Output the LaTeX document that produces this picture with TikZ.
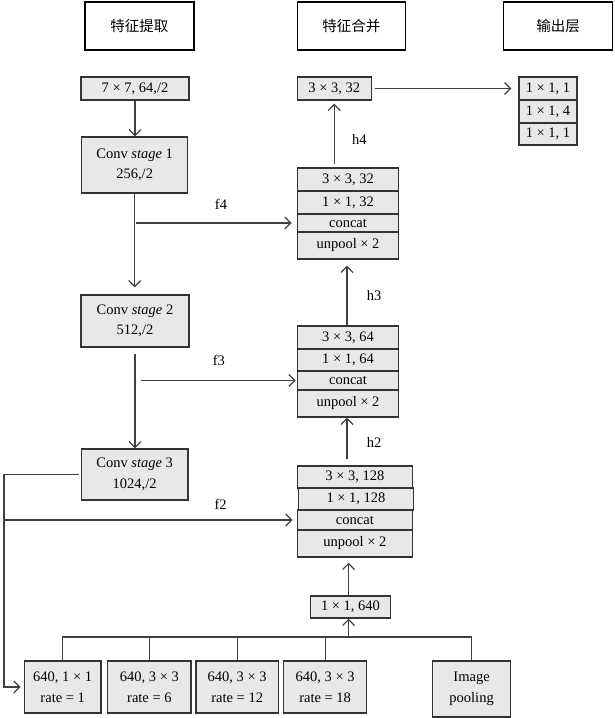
\documentclass[tikz,border=0pt]{standalone}
\usepackage{fontspec}
\setmainfont{Liberation Serif}
\newfontfamily\cjk{Noto Sans CJK SC}
\usetikzlibrary{arrows.meta}

\tikzset{
  box/.style={draw=black!80, fill=gray!18, line width=1.3pt, inner sep=0pt, align=center},
  sz/.style 2 args={minimum width=#1pt, minimum height=#2pt},
  head/.style={draw=black, line width=1.6pt, inner sep=0pt, minimum height=48pt, font=\cjk\fontsize{14.5}{17}\selectfont},
  conn/.style={draw=black!75, line width=1.2pt},
  arr/.style={conn, -{Straight Barb[length=6pt,width=12pt]}},
}

\begin{document}
\begin{tikzpicture}[x=1pt, y=-1pt, font=\fontsize{14.5}{20.5}\selectfont]
\useasboundingbox (0,0) rectangle (614,718);
% titles
\node[head, minimum width=109pt] (t1) at (139.3,26) {特征提取};
\node[head, minimum width=108pt] (t2) at (351.4,26) {特征合并};
\node[head, minimum width=109pt] (t3) at (558,26) {输出层};
% feature extraction
\node[box, sz={108}{23}] (k7) at (135,88.5) {7 × 7, 64,/2};
\node[box, sz={106}{56}] (conv1) at (134.7,165) {Conv \textit{stage} 1\\256,/2};
\node[box, sz={108}{52}] (conv2) at (135,321) {Conv \textit{stage} 2\\512,/2};
\node[box, sz={106.5}{51}] (conv3) at (134.7,474.5) {Conv \textit{stage} 3\\1024,/2};
% feature merging
\node[box, sz={74}{23}] (m32) at (334.3,88.5) {3 × 3, 32};
\node[box, sz={101.4}{23}] (s1a) at (348,179.5) {3 × 3, 32};
\node[box, sz={101.4}{23}] (s1b) at (348,202.5) {1 × 1, 32};
\node[box, sz={101.4}{18}] (s1c) at (348,223) {concat};
\node[box, sz={101.4}{27}] (s1d) at (348,245.5) {unpool × 2};
\node[box, sz={101.4}{23}] (s2a) at (348,337.5) {3 × 3, 64};
\node[box, sz={101.4}{22}] (s2b) at (348,360) {1 × 1, 64};
\node[box, sz={101.4}{19}] (s2c) at (348,380.5) {concat};
\node[box, sz={101.4}{27}] (s2d) at (348,403.5) {unpool × 2};
\node[box, sz={115.2}{22}] (s3a) at (354.9,477) {3 × 3, 128};
\node[box, sz={115.2}{22}] (s3b) at (356,499) {1 × 1, 128};
\node[box, sz={115.2}{20}] (s3c) at (354.9,520) {concat};
\node[box, sz={115.2}{27}] (s3d) at (354.9,543.5) {unpool × 2};
\node[box, sz={80}{22}] (m640) at (350.5,607) {1 × 1, 640};
% output
\node[box, sz={58}{23}] (o1) at (548,88.5) {1 × 1, 1};
\node[box, sz={58}{23}] (o2) at (548,111.5) {1 × 1, 4};
\node[box, sz={58}{22}] (o3) at (548,134) {1 × 1, 1};
% pyramid pooling
\node[box, sz={76.8}{52}] (b1) at (62.7,687) {640, 1 × 1\\rate = 1};
\node[box, sz={83.4}{52}] (b2) at (149.4,687) {640, 3 × 3\\rate = 6};
\node[box, sz={82.7}{52}] (b3) at (237.2,687) {640, 3 × 3\\rate = 12};
\node[box, sz={83}{52}] (b4) at (325.1,687) {640, 3 × 3\\rate = 18};
\node[box, sz={77.6}{56}] (b5) at (471.6,689) {Image\\pooling};

\coordinate (lt) at (4,474.5);
\coordinate (bus) at (348.6,637);

\draw[arr] (k7.south) -- (k7.south |- conv1.north);
\draw[arr, shorten >=7pt] (conv1.south) -- (conv1.south |- conv2.north);
\draw[arr, shorten <=6pt] (conv2.south) -- (conv2.south |- conv3.north);
\draw[arr, shorten >=5pt] ([xshift=1pt]conv1.south |- s1c.west) -- node[above=10pt, pos=.53]{f4} (s1c.west);
\draw[arr, shorten >=1pt] ([xshift=6pt]conv2.south |- s2c.west) -- node[above=10.5pt]{f3} (s2c.west);
\draw[arr, shorten <=2pt, shorten >=3pt] (conv3.west) -- (lt) -- (lt |- b1.west) -- (b1.west);
\draw[arr, shorten >=4pt] (lt |- s3c.west) -- node[above=7pt, pos=.74]{f2} (s3c.west);

\draw[arr, shorten <=3pt, shorten >=3pt] (m32.south |- s1a.north) -- node[right=14pt, pos=.42]{h4} (m32.south);
\draw[arr, shorten >=6pt] ([xshift=-1pt]s2a.north) -- node[right=16pt, pos=.45]{h3} ([xshift=-1pt]s1d.south);
\draw[arr, shorten <=6pt] ([xshift=-1pt]s3a.north -| s2d.south) -- node[right=16pt, pos=.48]{h2} ([xshift=-1pt]s2d.south);
\draw[arr, shorten >=5pt] (bus |- m640.north) -- (bus |- s3d.south);
\draw[arr, shorten <=3pt, shorten >=7pt] (m32.east) -- (o1.west);

\draw[conn] (b1.north) -- (b1.north |- bus) -- (b5.north |- bus) -- (b5.north);
\foreach \b in {b2,b3,b4}
  \draw[conn] (\b.north) -- (\b.north |- bus);
\draw[arr] (bus) -- (bus |- m640.south);
\end{tikzpicture}
\end{document}
